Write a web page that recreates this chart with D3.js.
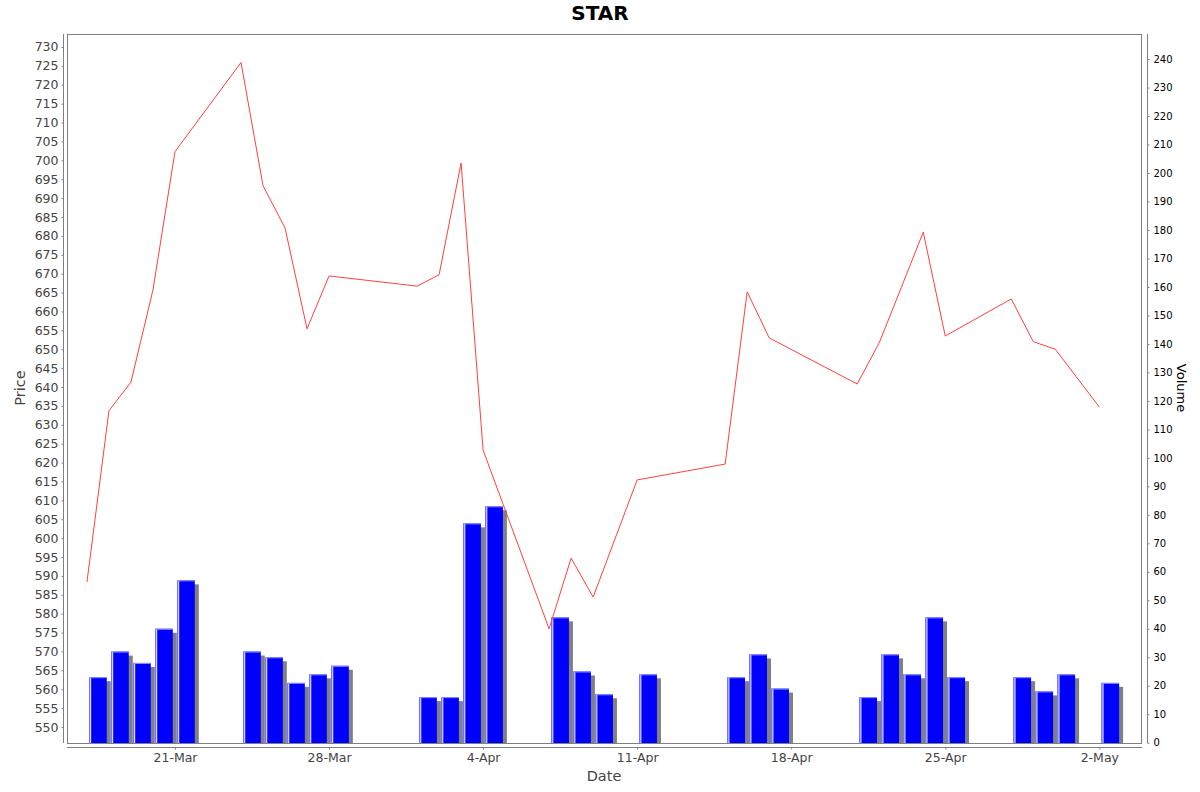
<!DOCTYPE html>
<html><head><meta charset="utf-8">
<script src="https://cdn.jsdelivr.net/npm/d3@7"></script>
<style>body{margin:0;background:#fff}svg{display:block}text{font-family:"DejaVu Sans",sans-serif}</style>
</head><body><svg id="c" width="1200" height="792"></svg>
<script>
const title = "STAR";
const dates = ["2025-03-17","2025-03-18","2025-03-19","2025-03-20","2025-03-21",
"2025-03-24","2025-03-25","2025-03-26","2025-03-27","2025-03-28",
"2025-04-01","2025-04-02","2025-04-03","2025-04-04",
"2025-04-07","2025-04-08","2025-04-09","2025-04-11",
"2025-04-15","2025-04-16","2025-04-17",
"2025-04-21","2025-04-22","2025-04-23","2025-04-24","2025-04-25",
"2025-04-28","2025-04-29","2025-04-30","2025-05-02"];
const prices = [588.4,633.7,641.3,665.7,702.3,
725.9,693.3,682.1,655.4,669.4,
666.7,669.7,699.3,623.3,
576.0,594.7,584.4,615.4,
619.6,665.2,653.0,
640.8,651.7,666.3,681.0,653.5,
663.3,652.0,650.0,634.7];
const volumes = [23,32,28,40,57,
32,30,21,24,27,
16,16,77,83,
44,25,17,24,
23,31,19,
16,31,24,44,23,
23,18,24,21];
const priceTicks = d3.range(550, 731, 5);
const volumeTicks = d3.range(0, 241, 10);
const dateTicks = ["2025-03-21","2025-03-28","2025-04-04","2025-04-11","2025-04-18","2025-04-25","2025-05-02"];

const parse = d3.utcParse("%Y-%m-%d");
const D = dates.map(parse);
const DAY = 864e5;
const L = 67, R = 1142, T = 34, B = 743;
const svg = d3.select("#c");

const x = d3.scaleUtc()
  .domain([new Date(D[0].getTime() - 0.907*DAY), new Date(D[D.length-1].getTime() + 1.94*DAY)])
  .range([L, R]);
const yP = d3.scaleLinear().domain([545.77, 733.44]).range([B, T]);
const yV = d3.scaleLinear().domain([0, 248.8]).range([B - 0.3, T]);

// plot border
svg.append("rect").attr("x", L + 0.5).attr("y", T + 0.5).attr("width", R - L - 1).attr("height", B - T)
  .attr("fill", "none").attr("stroke", "#808080");

// bars
const bw = 0.8 * DAY;
const g = svg.append("g");
D.forEach((d, i) => {
  const x0 = x(new Date(d.getTime() + 0.1*DAY));
  const x1 = x(new Date(d.getTime() + 0.9*DAY));
  const yt = yV(volumes[i]);
  // shadow
  g.append("rect").attr("x", x0 + 4).attr("y", yt + 4).attr("width", x1 - x0).attr("height", B - yt - 4).attr("fill", "#808080");
  // main bar
  g.append("rect").attr("x", x0).attr("y", yt).attr("width", x1 - x0).attr("height", B - yt).attr("fill", "#0000ff");
  // highlight
  g.append("rect").attr("x", x0).attr("y", yt).attr("width", 1).attr("height", B - yt).attr("fill", "#8080ff");
  g.append("rect").attr("x", x0 + 1).attr("y", yt).attr("width", 1).attr("height", B - yt).attr("fill", "#ffffff");
  g.append("rect").attr("x", x0).attr("y", yt).attr("width", x1 - x0).attr("height", 1).attr("fill", "#9090ff");
});

// price line
const line = d3.line().x((d, i) => x(D[i])).y(d => yP(d));
svg.append("path").datum(prices).attr("d", line).attr("fill", "none").attr("stroke", "#ff4040").attr("stroke-width", 1);

// left axis
const ga = svg.append("g").attr("transform", `translate(${63.5},0)`)
  .call(d3.axisLeft(yP).tickValues(priceTicks).tickSize(2).tickPadding(3).tickFormat(d3.format("d")));
ga.select(".domain").attr("d", `M0,${T}V${B}`).attr("stroke", "#808080");
ga.selectAll(".tick line").attr("stroke", "#808080");
ga.selectAll("text").attr("font-size", 12.5).attr("fill", "#444");

// right axis
const gr = svg.append("g").attr("transform", `translate(${1147.5},0)`)
  .call(d3.axisRight(yV).tickValues(volumeTicks).tickSize(2).tickPadding(4).tickFormat(d3.format("d")));
gr.select(".domain").attr("d", `M0,${T}V${B}`).attr("stroke", "#808080");
gr.selectAll(".tick line").attr("stroke", "#808080");
gr.selectAll("text").attr("font-size", 10).attr("fill", "#000");

// bottom axis
const gb = svg.append("g").attr("transform", `translate(0,${747.5})`)
  .call(d3.axisBottom(x).tickValues(dateTicks.map(parse)).tickSize(2).tickPadding(4).tickFormat(d3.utcFormat("%-d-%b")));
gb.select(".domain").attr("d", `M${L},0H${R}`).attr("stroke", "#808080");
gb.selectAll(".tick line").attr("stroke", "#808080");
gb.selectAll("text").attr("font-size", 12.5).attr("fill", "#444");

// titles
svg.append("text").attr("x", 600).attr("y", 20).attr("text-anchor", "middle").attr("font-size", 20).attr("font-weight", "bold").text(title);
svg.append("text").attr("x", 604).attr("y", 781).attr("text-anchor", "middle").attr("font-size", 14.5).attr("fill", "#444").text("Date");
svg.append("text").attr("transform", "translate(25,388) rotate(-90)").attr("text-anchor", "middle").attr("font-size", 14.5).attr("fill", "#444").text("Price");
svg.append("text").attr("transform", "translate(1177,388) rotate(90)").attr("text-anchor", "middle").attr("font-size", 13).attr("fill", "#000").text("Volume");
</script></body></html>
